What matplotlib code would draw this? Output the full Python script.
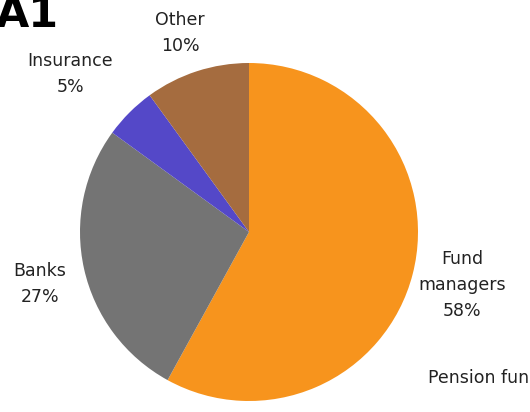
import matplotlib
matplotlib.use("Agg")
import matplotlib.pyplot as plt

# Sector shares (%), drawn clockwise from 12 o'clock
sectors = ["Fund\nmanagers", "Banks", "Insurance", "Other"]
shares = [58, 27, 5, 10]
colors = ["#F7941D", "#747474", "#5448C8", "#A56C3F"]

W, H = 530, 412
fig = plt.figure(figsize=(W / 100, H / 100), dpi=100)

# pie axes placed in pixels: centre (249, 232), radius 169
ax = fig.add_axes([80 / W, 11 / H, 338 / W, 338 / H])
ax.pie(shares, colors=colors, startangle=90, counterclock=False,
       radius=1, wedgeprops=dict(linewidth=0))
ax.set_xlim(-1, 1)
ax.set_ylim(-1, 1)
ax.set_aspect("equal")
ax.axis("off")

# label positions (pixels from top-left), one per sector
label_pos = [(462, 285), (40, 284), (70, 74), (180, 33)]
for name, val, (x, y) in zip(sectors, shares, label_pos):
    fig.text(x / W, 1 - y / H, f"{name}\n{val}%", ha="center", va="center",
             fontsize=12.5, color="#222222", linespacing=1.55)

fig.text(428 / W, 1 - 378 / H, "Pension funds", ha="left", va="center",
         fontsize=12.5, color="#222222")

fig.text(-4 / W, 1 - 27 / H, "A1", ha="left", va="baseline",
         fontsize=31, fontweight="bold", color="black")

fig.savefig("out.png", dpi=100)
